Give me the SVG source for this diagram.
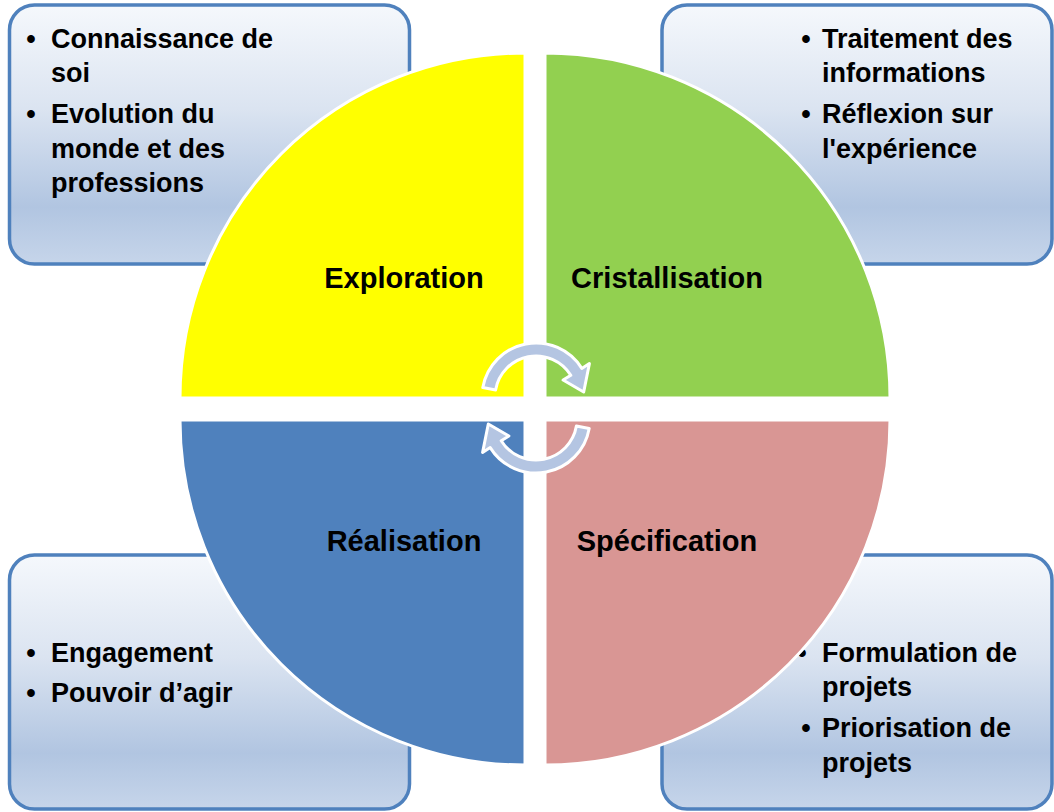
<svg xmlns="http://www.w3.org/2000/svg" width="1054" height="812" viewBox="0 0 1054 812">
<defs>
<linearGradient id="boxg" x1="0" y1="0" x2="0" y2="1">
<stop offset="0" stop-color="#F5F8FC"/>
<stop offset="0.4" stop-color="#DBE4F1"/>
<stop offset="0.78" stop-color="#B1C5E1"/>
<stop offset="1" stop-color="#C6D5EA"/>
</linearGradient>
<style>
.box{fill:url(#boxg);stroke:#4F81BD;stroke-width:3.5}
.q{stroke:#FFFFFF;stroke-width:3}
.t{font-family:"Liberation Sans",Arial,sans-serif;font-weight:bold;font-size:27px;fill:#000}
.b{font-family:"Liberation Sans",Arial,sans-serif;font-weight:bold;font-size:27px;fill:#000;text-anchor:middle}
.lbl{font-family:"Liberation Sans",Arial,sans-serif;font-weight:bold;font-size:29px;fill:#000;text-anchor:middle}
.arr{fill:#B4C5E2;stroke:#FFFFFF;stroke-width:3;stroke-linejoin:round}
</style>
</defs>
<rect width="1054" height="812" fill="#FFFFFF"/>
<g id="box-tl">
<rect class="box" x="9.5" y="5" width="400" height="259" rx="25"/>
<text class="b" x="31" y="48">•</text><text class="t" x="51" y="48">Connaissance de</text>
<text class="t" x="51" y="82">soi</text>
<text class="b" x="31" y="123">•</text><text class="t" x="51" y="123">Evolution du</text>
<text class="t" x="51" y="158">monde et des</text>
<text class="t" x="51" y="192">professions</text>
</g>
<g id="box-tr">
<rect class="box" x="662" y="5" width="390" height="259" rx="25"/>
<text class="b" x="806" y="48">•</text><text class="t" x="822" y="48">Traitement des</text>
<text class="t" x="822" y="82">informations</text>
<text class="b" x="806" y="123">•</text><text class="t" x="822" y="123">Réflexion sur</text>
<text class="t" x="822" y="158">l'expérience</text>
</g>
<g id="box-bl">
<rect class="box" x="9.5" y="555" width="400" height="254" rx="25"/>
<text class="b" x="31" y="662">•</text><text class="t" x="51" y="662">Engagement</text>
<text class="b" x="31" y="702">•</text><text class="t" x="51" y="702">Pouvoir d’agir</text>
</g>
<g id="box-br">
<rect class="box" x="662" y="555" width="390" height="254" rx="25"/>
<text class="b" x="802" y="662">•</text><text class="t" x="822" y="662">Formulation de</text>
<text class="t" x="822" y="696">projets</text>
<text class="b" x="806" y="737">•</text><text class="t" x="822" y="737">Priorisation de</text>
<text class="t" x="822" y="772">projets</text>
</g>
<g id="q-exploration">
<path class="q" fill="#FFFF00" d="M525,398 L180,398 A345,345 0 0 1 525,53 Z"/>
<text class="lbl" x="404" y="288">Exploration</text>
</g>
<g id="q-cristallisation">
<path class="q" fill="#92D050" d="M545,398 L545,53 A345,345 0 0 1 890,398 Z"/>
<text class="lbl" x="667" y="288">Cristallisation</text>
</g>
<g id="q-realisation">
<path class="q" fill="#4F81BD" d="M525,420 L525,765 A345,345 0 0 1 180,420 Z"/>
<text class="lbl" x="404" y="551">Réalisation</text>
</g>
<g id="q-specification">
<path class="q" fill="#D99694" d="M545,420 L890,420 A345,345 0 0 1 545,765 Z"/>
<text class="lbl" x="667" y="551">Spécification</text>
</g>
<g id="connectors">
<path id="arrow-top" class="arr" d="M482.8,387.6 A54,54 0 0 1 581.8,368.4 L589.4,363.6 L583.7,392 L563.1,380 L570.8,375.3 A41,41 0 0 0 495.6,389.9 Z"/>
<path id="arrow-bottom" class="arr" transform="rotate(180 536 408)" d="M482.8,387.6 A54,54 0 0 1 581.8,368.4 L589.4,363.6 L583.7,392 L563.1,380 L570.8,375.3 A41,41 0 0 0 495.6,389.9 Z"/>
</g>
</svg>
